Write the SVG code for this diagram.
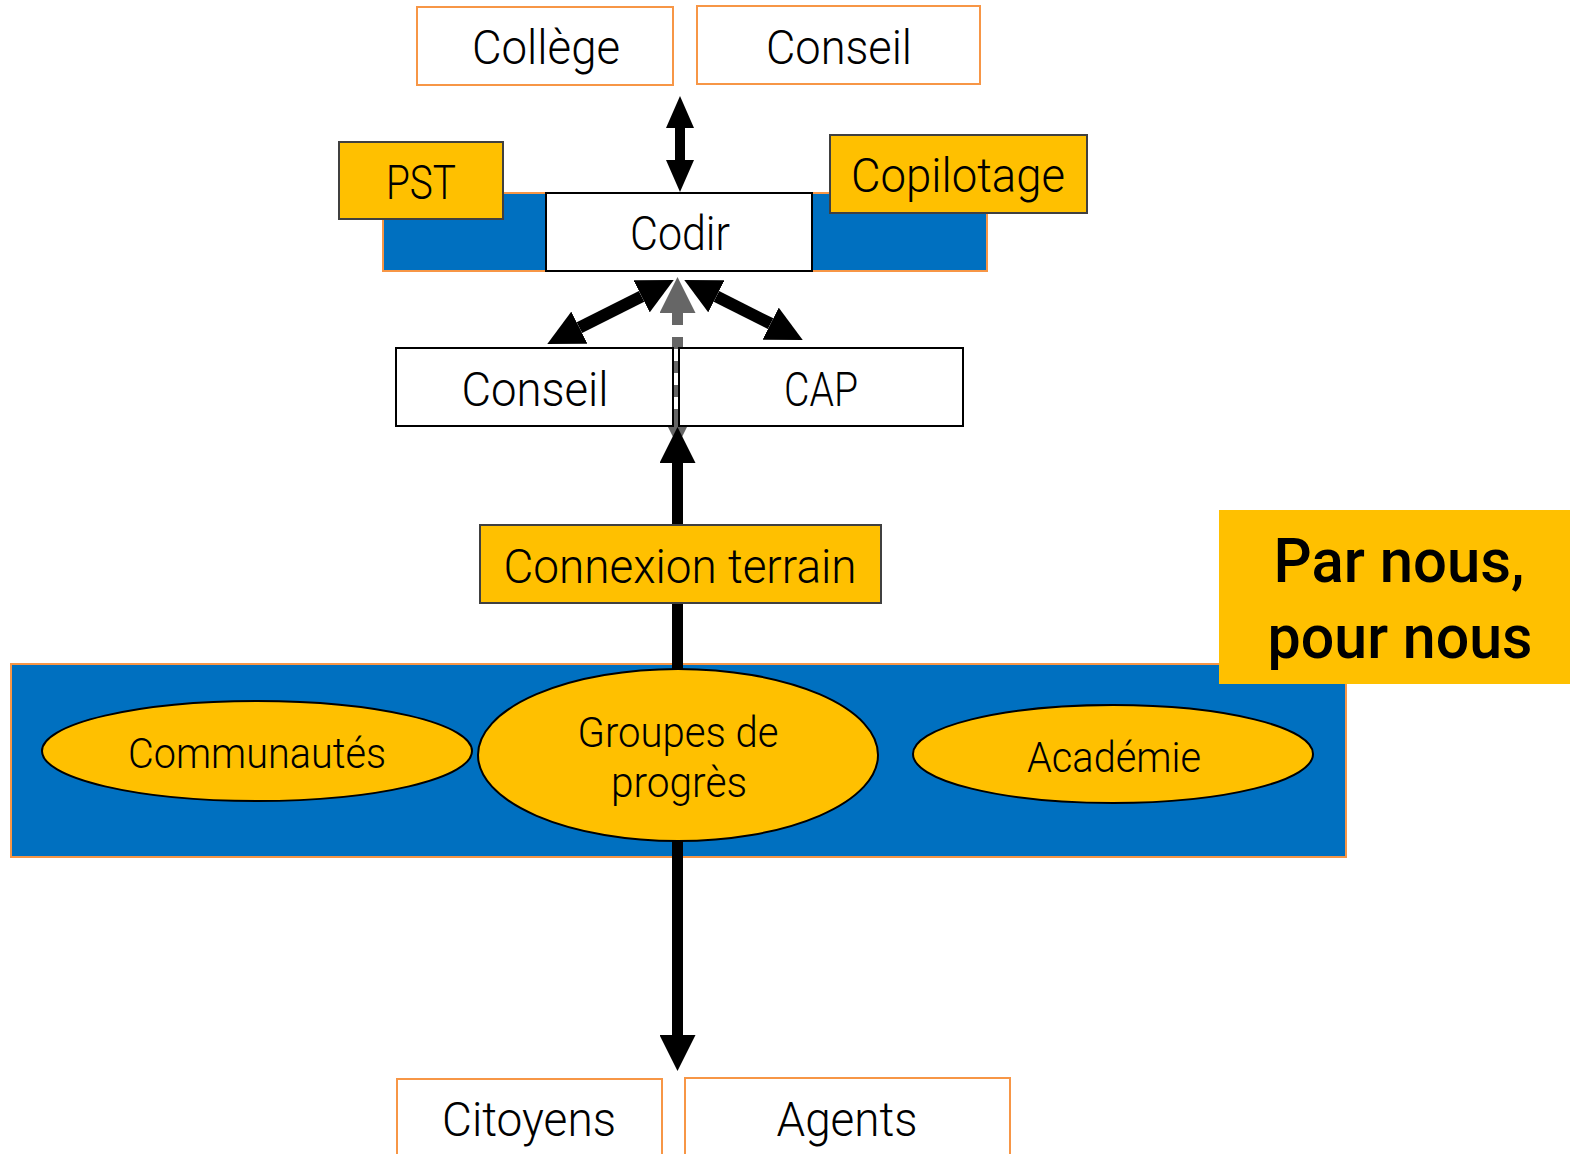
<svg xmlns="http://www.w3.org/2000/svg" width="1570" height="1154" viewBox="0 0 1570 1154">
<defs>
<style>
.bg{fill:#0070C0;stroke:#F79646;stroke-width:2}
.ob{fill:#fff;stroke:#F79646;stroke-width:2}
.wb{fill:#fff;stroke:#000;stroke-width:2}
.gb{fill:#FFC000;stroke:#404040;stroke-width:2}
.el{fill:#FFC000;stroke:#000;stroke-width:2}
.t{font-family:Roboto,"Liberation Sans",sans-serif;font-weight:300;font-size:48px;fill:#000;text-anchor:middle}
.te{font-size:43px}
.tb{font-family:Roboto,"Liberation Sans",sans-serif;font-weight:500;font-size:62px;fill:#000;text-anchor:middle}
.blk{stroke:#000;fill:none}
</style>
<marker id="hs" markerUnits="userSpaceOnUse" markerWidth="32" markerHeight="28" refX="0" refY="14" orient="auto-start-reverse" viewBox="0 0 32 28"><path d="M0,0 L32,14 L0,28 z" fill="#000"/></marker>
<marker id="hl" markerUnits="userSpaceOnUse" markerWidth="36" markerHeight="36" refX="0" refY="18" orient="auto-start-reverse" viewBox="0 0 36 36"><path d="M0,0 L36,18 L0,36 z" fill="#000"/></marker>
<marker id="hg" markerUnits="userSpaceOnUse" markerWidth="36" markerHeight="36" refX="0" refY="18" orient="auto-start-reverse" viewBox="0 0 36 36"><path d="M0,0 L36,18 L0,36 z" fill="#666"/></marker>
</defs>
<rect width="1570" height="1154" fill="#fff"/>
<g id="band-top"><rect class="bg" x="383" y="193" width="604" height="78"/></g>
<g id="band-bottom"><rect class="bg" x="11" y="664" width="1335" height="193"/></g>
<g id="connectors">
<line class="blk" x1="680" y1="128" x2="680" y2="160" stroke-width="10" marker-start="url(#hs)" marker-end="url(#hs)"/>
<line class="blk" x1="641.6" y1="296.3" x2="579.4" y2="327.7" stroke-width="12" marker-start="url(#hl)" marker-end="url(#hl)"/>
<line class="blk" x1="716.4" y1="296.3" x2="770.6" y2="323.7" stroke-width="12" marker-start="url(#hl)" marker-end="url(#hl)"/>
<line x1="677.5" y1="313" x2="677.5" y2="410" stroke="#666" stroke-width="11" stroke-dasharray="12 12" marker-start="url(#hg)" marker-end="url(#hg)"/>
<line class="blk" x1="677.5" y1="463" x2="677.5" y2="1035" stroke-width="11" marker-start="url(#hl)" marker-end="url(#hl)"/>
</g>
<g id="college"><rect class="ob" x="417" y="7" width="256" height="78"/><text class="t" x="546" y="64" textLength="148" lengthAdjust="spacingAndGlyphs">Collège</text></g>
<g id="conseil-top"><rect class="ob" x="697" y="6" width="283" height="78"/><text class="t" x="839" y="64" textLength="146" lengthAdjust="spacingAndGlyphs">Conseil</text></g>
<g id="codir"><rect class="wb" x="546" y="193" width="266" height="78"/><text class="t" x="680" y="250" textLength="100" lengthAdjust="spacingAndGlyphs">Codir</text></g>
<g id="pst"><rect class="gb" x="339" y="142" width="164" height="77"/><text class="t" x="421" y="199" textLength="70" lengthAdjust="spacingAndGlyphs">PST</text></g>
<g id="copilotage"><rect class="gb" x="830" y="135" width="257" height="78"/><text class="t" x="958" y="192" textLength="214" lengthAdjust="spacingAndGlyphs">Copilotage</text></g>
<g id="conseil-mid"><rect class="wb" x="396" y="348" width="277" height="78"/><text class="t" x="535" y="406" textLength="147" lengthAdjust="spacingAndGlyphs">Conseil</text></g>
<g id="cap"><rect class="wb" x="679" y="348" width="284" height="78"/><text class="t" x="821" y="406" textLength="74" lengthAdjust="spacingAndGlyphs">CAP</text></g>
<g id="connexion"><rect class="gb" x="480" y="525" width="401" height="78"/><text class="t" x="680" y="583" textLength="353" lengthAdjust="spacingAndGlyphs">Connexion terrain</text></g>
<g id="communautes"><ellipse class="el" cx="257" cy="751" rx="215" ry="50"/><text class="t te" x="257" y="768" textLength="258" lengthAdjust="spacingAndGlyphs">Communautés</text></g>
<g id="groupes"><ellipse class="el" cx="678" cy="755" rx="200" ry="86"/><text class="t te" x="678" y="747" textLength="201" lengthAdjust="spacingAndGlyphs">Groupes de</text><text class="t te" x="679" y="797" textLength="136" lengthAdjust="spacingAndGlyphs">progrès</text></g>
<g id="academie"><ellipse class="el" cx="1113" cy="754" rx="200" ry="49"/><text class="t te" x="1114" y="772" textLength="174" lengthAdjust="spacingAndGlyphs">Académie</text></g>
<g id="par-nous"><rect x="1219" y="510" width="351" height="174" fill="#FFC000"/><text class="tb" x="1399" y="582" textLength="251" lengthAdjust="spacingAndGlyphs">Par nous,</text><text class="tb" x="1400" y="658" textLength="265" lengthAdjust="spacingAndGlyphs">pour nous</text></g>
<g id="citoyens"><rect class="ob" x="397" y="1079" width="265" height="90"/><text class="t" x="529" y="1136" textLength="174" lengthAdjust="spacingAndGlyphs">Citoyens</text></g>
<g id="agents"><rect class="ob" x="685" y="1078" width="325" height="90"/><text class="t" x="847" y="1136" textLength="141" lengthAdjust="spacingAndGlyphs">Agents</text></g>
</svg>
